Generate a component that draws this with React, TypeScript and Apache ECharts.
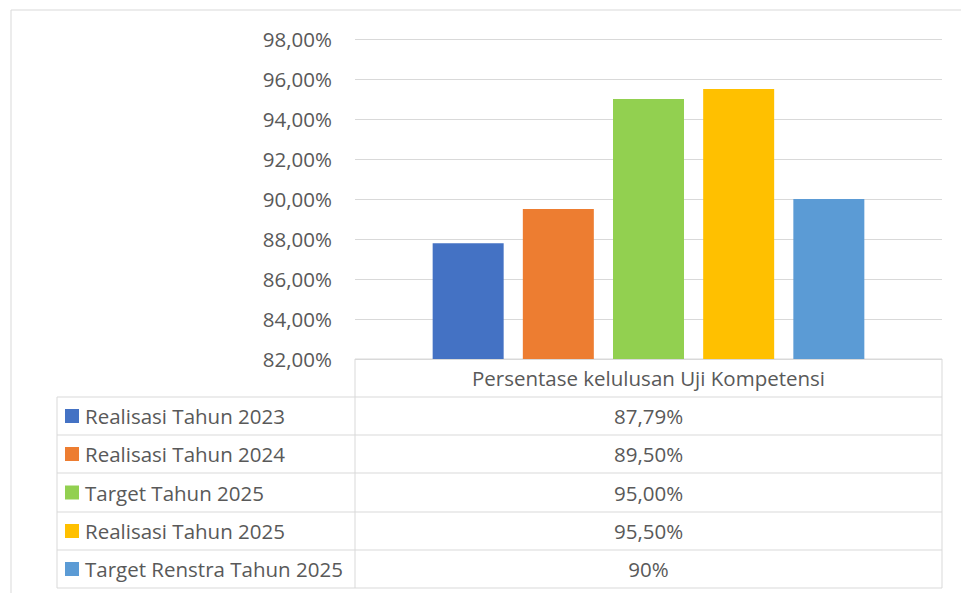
import React, { useEffect, useRef } from "react";
import * as echarts from "echarts";

const categoryName = "Persentase kelulusan Uji Kompetensi";
const seriesNames = [
  "Realisasi Tahun 2023",
  "Realisasi Tahun 2024",
  "Target Tahun 2025",
  "Realisasi Tahun 2025",
  "Target Renstra Tahun 2025",
];
const seriesValues = [87.79, 89.5, 95.0, 95.5, 90];
const tableLabels = ["87,79%", "89,50%", "95,00%", "95,50%", "90%"];
const seriesColors = ["#4472C4", "#ED7D31", "#92D050", "#FFC000", "#5B9BD5"];
const yMin = 82;
const yMax = 98;
const yInterval = 2;

const FONT = "'Open Sans', 'Noto Sans', sans-serif";
const TEXT = "#595959";
const LINE = "#D9D9D9";

export default function App() {
  const ref = useRef<HTMLDivElement>(null);
  useEffect(() => {
    if (!ref.current) return;
    const chart = echarts.init(ref.current, null, { renderer: "svg" });

    const gridLeft = 355;
    const gridRight = 942;
    const gridTop = 39;
    const gridBottom = 359;
    const tableLeft = 57;
    const rowLines = [397, 435, 473, 512, 550, 588];
    const fs = 20.5;

    const graphics: any[] = [];
    const ln = (x1: number, y1: number, x2: number, y2: number) =>
      graphics.push({
        type: "line",
        shape: { x1, y1, x2, y2 },
        style: { stroke: LINE, lineWidth: 1 },
        silent: true,
      });
    // outer chart border
    ln(11, 10, 961, 10);
    ln(11, 10, 11, 593);
    // table
    ln(gridLeft, gridBottom, gridRight, gridBottom);
    ln(gridLeft, gridBottom, gridLeft, rowLines[rowLines.length - 1]);
    ln(gridRight, gridBottom, gridRight, rowLines[rowLines.length - 1]);
    ln(tableLeft, rowLines[0], tableLeft, rowLines[rowLines.length - 1]);
    rowLines.forEach((y) => ln(tableLeft, y, gridRight, y));
    const cx = (gridLeft + gridRight) / 2;
    graphics.push({
      type: "text",
      x: cx,
      y: (gridBottom + rowLines[0]) / 2,
      style: {
        text: categoryName,
        fill: TEXT,
        font: `${fs}px ${FONT}`,
        align: "center",
        verticalAlign: "middle",
      },
    });
    seriesNames.forEach((name, i) => {
      const yc = (rowLines[i] + rowLines[i + 1]) / 2;
      graphics.push({
        type: "rect",
        shape: { x: 65, y: yc - 7, width: 14, height: 14 },
        style: { fill: seriesColors[i] },
      });
      graphics.push({
        type: "text",
        x: 85,
        y: yc,
        style: {
          text: name,
          fill: TEXT,
          font: `${fs}px ${FONT}`,
          align: "left",
          verticalAlign: "middle",
        },
      });
      graphics.push({
        type: "text",
        x: cx,
        y: yc,
        style: {
          text: tableLabels[i],
          fill: TEXT,
          font: `${fs}px ${FONT}`,
          align: "center",
          verticalAlign: "middle",
        },
      });
    });

    chart.setOption({
      animation: false,
      backgroundColor: "#ffffff",
      grid: {
        left: gridLeft,
        top: gridTop,
        width: gridRight - gridLeft,
        height: gridBottom - gridTop,
        containLabel: false,
      },
      xAxis: {
        type: "category",
        data: [categoryName],
        axisLine: { show: false },
        axisTick: { show: false },
        axisLabel: { show: false },
      },
      yAxis: {
        type: "value",
        min: yMin,
        max: yMax,
        interval: yInterval,
        axisLine: { show: false },
        axisTick: { show: false },
        axisLabel: {
          margin: 23,
          color: TEXT,
          fontSize: fs,
          fontFamily: FONT,
          formatter: (v: number) => v.toFixed(2).replace(".", ",") + "%",
        },
        splitLine: { lineStyle: { color: LINE, width: 1 } },
      },
      series: seriesNames.map((name, i) => ({
        name,
        type: "bar",
        data: [seriesValues[i]],
        barWidth: 71,
        barGap: "27%",
        itemStyle: { color: seriesColors[i] },
      })),
      graphic: graphics,
    });
    return () => chart.dispose();
  }, []);
  return (
    <div
      ref={ref}
      style={{ position: "fixed", left: 0, top: 0, width: 961, height: 593 }}
    />
  );
}
